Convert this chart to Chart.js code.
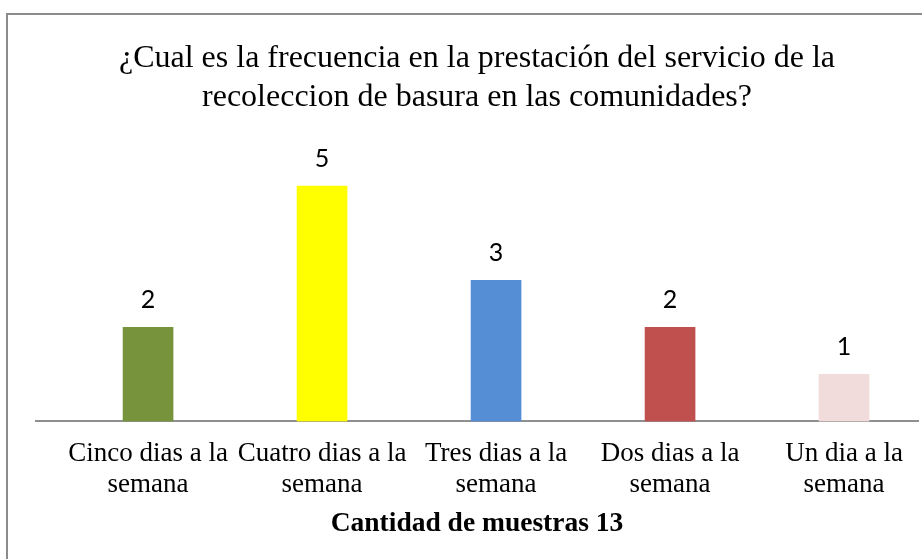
<!DOCTYPE html>
<html>
<head>
<meta charset="utf-8">
<script src="https://cdn.jsdelivr.net/npm/chart.js@4/dist/chart.umd.min.js"></script>
<style>
  html, body { margin: 0; padding: 0; background: #fff; overflow: hidden; }
  body { width: 922px; height: 559px; position: relative; }
  #frame { position: absolute; left: 6px; top: 13px; width: 1000px; height: 1000px; border: 2px solid #8c8c8c; box-sizing: border-box; }
  #wrap { position: absolute; left: 0; top: 0; width: 922px; height: 559px; }
</style>
</head>
<body>
<div id="frame"></div>
<div id="wrap"><canvas id="chart"></canvas></div>
<script>
// Datos del gráfico
const titleLines = ['¿Cual es la frecuencia en la prestación del servicio de la', 'recoleccion de basura en las comunidades?'];
const categories = [
  ['Cinco dias a la', 'semana'],
  ['Cuatro dias a la', 'semana'],
  ['Tres dias a la', 'semana'],
  ['Dos dias a la', 'semana'],
  ['Un dia a la', 'semana']
];
const values = [2, 5, 3, 2, 1];
const axisTitle = 'Cantidad de muestras 13';
const barColors = ['#77933C', '#FFFF00', '#558ED5', '#C0504D', '#F2DCDB'];

// etiqueta de valor sobre cada barra
const valueLabels = {
  id: 'valueLabels',
  afterDatasetsDraw(chart) {
    const ctx = chart.ctx;
    const meta = chart.getDatasetMeta(0);
    ctx.save();
    ctx.font = '25px Lato';
    ctx.fillStyle = '#000';
    ctx.textAlign = 'center';
    ctx.textBaseline = 'middle';
    meta.data.forEach((bar, i) => {
      ctx.fillText(String(values[i]), bar.x, bar.y - 27);
    });
    ctx.restore();
  }
};

const ctx = document.getElementById('chart').getContext('2d');
new Chart(ctx, {
  type: 'bar',
  data: {
    datasets: [{
      data: values.map((v, i) => ({ x: i, y: v })),
      backgroundColor: barColors,
      barThickness: 50
    }]
  },
  options: {
    responsive: true,
    maintainAspectRatio: false,
    animation: false,
    layout: { padding: { left: 36, right: 4, top: 0, bottom: 18.5 } },
    plugins: {
      legend: { display: false },
      tooltip: { enabled: false },
      title: {
        display: true,
        text: titleLines,
        color: '#000',
        font: { family: '"Liberation Serif", serif', size: 32, weight: 'normal', lineHeight: 1.19 },
        padding: { top: 40, bottom: 23 }
      }
    },
    scales: {
      x: {
        type: 'linear',
        offset: false,
        min: -0.644,
        max: 4.425,
        grid: { display: false },
        border: { display: true, color: '#8f8f8f', width: 2 },
        ticks: {
          stepSize: 1,
          includeBounds: false,
          autoSkip: false,
          maxRotation: 0,
          color: '#000',
          padding: 9,
          font: { family: '"Liberation Serif", serif', size: 27, lineHeight: 1.15 },
          callback: v => (Number.isInteger(v) && categories[v]) ? categories[v] : ''
        },
        title: {
          display: true,
          text: axisTitle,
          color: '#000',
          font: { family: '"Liberation Serif", serif', size: 27.5, weight: 'bold', lineHeight: 1.2 },
          padding: { top: -2, bottom: 0 }
        }
      },
      y: { display: false, min: 0, max: 6 }
    }
  },
  plugins: [valueLabels]
});
</script>
</body>
</html>
